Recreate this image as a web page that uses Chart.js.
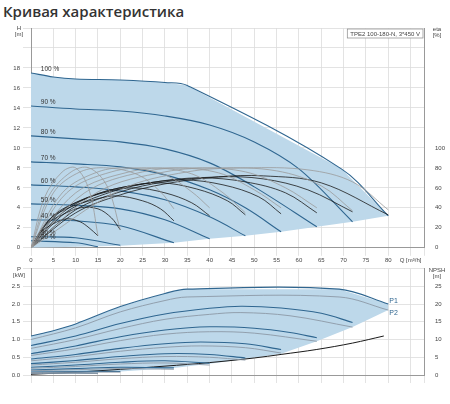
<!DOCTYPE html>
<html>
<head>
<meta charset="utf-8">
<script src="https://cdn.jsdelivr.net/npm/chart.js@4/dist/chart.umd.min.js"></script>
<style>
  body { margin: 0; background: #fff; width: 450px; height: 404px; position: relative; overflow: hidden; font-family: "Open Sans", "Liberation Sans", sans-serif; }
  #title { position: absolute; left: 3px; top: 1px; font-size: 15px; font-weight: 600; color: #333; }
  #top { position: absolute; left: 0; top: 20px; width: 450px; height: 245px; }
  #bottom { position: absolute; left: 0; top: 262px; width: 450px; height: 142px; }
</style>
</head>
<body>
<div id="title">Кривая характеристика</div>
<div id="top"><canvas id="c1"></canvas></div>
<div id="bottom"><canvas id="c2"></canvas></div>
<script>
// speed labels and pump curves H(Q)
const speeds = ['100 %', '90 %', '80 %', '70 %', '60 %', '50 %', '40 %', '30 %', '20 %'];
const headCurves = [
    [[0,17.5],[5,17.1],[10,16.9],[20,16.8],[30,16.55],[35,16.25],[69.5,7.9],[80,3.2]],
    [[0,14.2],[10,13.9],[20,13.7],[30,13.2],[40,12.3],[50,10.6],[60,7.9],[72,2.6]],
    [[0,11.2],[10,10.9],[20,10.6],[30,9.9],[40,8.5],[50,6.1],[64,2.1]],
    [[0,8.6],[10,8.4],[20,8.1],[30,7.3],[40,5.8],[48,4.0],[56,1.6]],
    [[0,6.3],[10,6.1],[20,5.7],[30,4.8],[40,3.1],[48,1.2]],
    [[0,4.4],[10,4.25],[20,3.9],[30,2.8],[40,0.9]],
    [[0,2.8],[10,2.7],[20,2.2],[32,0.5]],
    [[0,1.1],[10,1.0],[20,0.25]],
    [[0,0.7],[10,0.5],[15,0.1]]
];
const headLower = [[80,3.2],[72,2.6],[64,2.1],[56,1.6],[48,1.2],[40,0.9],[32,0.5],[20,0.2],[0,0]];

// efficiency curves eta(Q), hydraulic (grey) and total (black)
const etaGrey = [
    [[0,0],[20,58],[35,76],[48,80],[62,78],[72,66],[80,38]],
    [[0,0],[15,56],[30,76],[42,80],[55,77],[65,62],[72,37]],
    [[0,0],[12,55],[25,76],[37,80],[48,76],[57,60],[64,40]],
    [[0,0],[10,55],[22,76],[32,80],[42,75],[50,58],[56,40]],
    [[0,0],[8,55],[18,76],[27,80],[36,74],[43,55],[48,35]],
    [[0,0],[7,55],[15,76],[22,80],[30,73],[36,56],[40,40]],
    [[0,0],[5,55],[11,76],[17,80],[24,73],[29,56],[32,39]],
    [[0,0],[4,52],[9,76],[13,80],[17,62],[20,18]],
    [[0,0],[3,50],[7,76],[10,80],[13,58],[15,12]]
];
const etaBlack = [
    [[0,0],[10,35],[20,53],[30,64],[42,71],[52,72],[65,65],[80,33]],
    [[0,0],[10,38],[20,56],[30,66],[42,71],[52,69],[62,58],[72,36]],
    [[0,0],[8,36],[18,56],[28,66],[38,70],[48,66],[57,55],[64,35]],
    [[0,0],[7,35],[15,54],[25,64],[34,68],[43,63],[51,51],[56,34]],
    [[0,0],[6,34],[13,51],[21,61],[29,65],[37,59],[44,47],[48,33]],
    [[0,0],[5,32],[11,47],[17,56],[23,60],[30,55],[36,45],[40,32]],
    [[0,0],[4,28],[9,41],[14,48],[19,52],[25,47],[29,39],[32,27]],
    [[0,0],[3,22],[7,33],[11,40],[15,39],[18,30],[20,18]],
    [[0,0],[2,15],[5,24],[8,29],[11,26],[13,20],[15,12]]
];

// power curves P1 (blue) and P2 (grey), NPSH
const p1Curves = [
    [[0,1.1],[5,1.25],[10,1.44],[20,1.93],[30,2.3],[35,2.42],[69,2.42],[80,2.0]],
    [[0,0.83],[10,1.1],[20,1.45],[30,1.72],[40,1.88],[47,1.94],[56,1.89],[65,1.74],[72,1.48]],
    [[0,0.6],[10,0.82],[20,1.08],[30,1.27],[40,1.36],[50,1.32],[58,1.2],[64,1.05]],
    [[0,0.45],[10,0.58],[20,0.75],[30,0.88],[38,0.93],[48,0.88],[56,0.72]],
    [[0,0.32],[10,0.41],[20,0.52],[30,0.6],[40,0.58],[48,0.48]],
    [[0,0.22],[10,0.28],[20,0.36],[30,0.4],[40,0.33]],
    [[0,0.14],[10,0.18],[20,0.22],[32,0.2]],
    [[0,0.08],[10,0.1],[20,0.1]],
    [[0,0.05],[10,0.06],[15,0.05]]
];
const p2Curves = [
    [[0,1.0],[10,1.33],[20,1.78],[30,2.1],[35,2.2],[69,2.2],[80,1.83]],
    [[0,0.75],[10,1.0],[20,1.31],[30,1.57],[40,1.71],[47,1.76],[58,1.67],[72,1.35]],
    [[0,0.55],[10,0.74],[20,0.97],[30,1.15],[40,1.22],[50,1.18],[64,0.95]],
    [[0,0.4],[10,0.52],[20,0.67],[30,0.78],[38,0.82],[48,0.77],[56,0.62]],
    [[0,0.28],[10,0.36],[20,0.46],[30,0.52],[40,0.5],[48,0.42]],
    [[0,0.19],[10,0.24],[20,0.31],[30,0.34],[40,0.28]],
    [[0,0.12],[10,0.15],[20,0.18],[32,0.16]],
    [[0,0.07],[10,0.08],[20,0.08]],
    [[0,0.04],[10,0.05],[15,0.04]]
];
const powerLower = [[80,1.83],[72,1.35],[64,0.95],[56,0.6],[48,0.45],[40,0.32],[32,0.2],[20,0.1],[0,0.03]];
const npsh = [[0,0.2],[10,0.8],[20,1.6],[30,2.5],[40,3.5],[50,4.8],[56,5.8],[64,7.2],[72,9.0],[79,11]];

const xTicksMax = 80;
const qTitle = 'Q [m³/h]';
const pumpName = 'TPE2 100-180-N, 3*450 V';

Chart.defaults.font.family = '"Liberation Sans", Arial, sans-serif';
Chart.defaults.font.size = 6;
Chart.defaults.color = '#444';
Chart.defaults.animation = false;

const toXY = pts => pts.map(p => ({x: p[0], y: p[1]}));
const line = (pts, color, width, axis) => ({
    data: toXY(pts), borderColor: color, borderWidth: width, pointRadius: 0,
    tension: 0.35, fill: false, yAxisID: axis, order: 1
});
const shape = (top, lower, axis) => ({
    data: toXY(top.concat(lower)), borderColor: 'rgba(0,0,0,0)', borderWidth: 0,
    backgroundColor: '#bdd8ea', pointRadius: 0, tension: 0, fill: 'shape', yAxisID: axis, order: 10
});

const grid = { color: '#dcdcdc', lineWidth: 0.8 };
const border = { color: '#999' };

function xScale(showLabels) {
    return {
        type: 'linear', min: 0, max: 88,
        grid: grid, border: border,
        ticks: {
            stepSize: 5, autoSkip: false, maxRotation: 0, padding: 1, display: showLabels,
            callback: v => v <= xTicksMax ? v : (v === 85 ? qTitle : '')
        }
    };
}
function yScale(pos, max, step, lastLabel, fmt, w) {
    return {
        type: 'linear', position: pos, min: 0, max: max,
        grid: pos === 'left' ? grid : { display: false }, border: border,
        ticks: { stepSize: step, autoSkip: false, padding: 3, callback: v => v <= lastLabel ? fmt(v) : '' },
        afterFit: s => { s.width = w; }
    };
}

const textPlugin = {
    id: 'texts',
    afterDraw(chart, args, opts) {
        const ctx = chart.ctx, a = chart.chartArea;
        ctx.save();
        ctx.font = '6px "Liberation Sans", Arial, sans-serif';
        ctx.fillStyle = '#444';
        ctx.textAlign = 'center';
        ctx.fillText(opts.left[0], 19, a.top + 2);
        ctx.fillText(opts.left[1], 19, a.top + 8);
        ctx.fillText(opts.right[0], 437, a.top + 3);
        ctx.fillText(opts.right[1], 437, a.top + 9);
        if (opts.draw) opts.draw(chart, ctx);
        ctx.restore();
    }
};

// top chart
const topSets = [shape(headCurves[0], headLower, 'y')];
etaGrey.forEach(c => topSets.push(line(c, '#9a9a9a', 0.8, 'eta')));
etaBlack.forEach(c => topSets.push(line(c, '#1a1a1a', 0.8, 'eta')));
headCurves.forEach(c => topSets.push(line(c, '#2f6690', 1.1, 'y')));

new Chart(document.getElementById('c1'), {
    type: 'line',
    data: { datasets: topSets },
    plugins: [textPlugin],
    options: {
        responsive: true, maintainAspectRatio: false,
        layout: { padding: { top: 8, bottom: 0 } },
        plugins: {
            legend: { display: false }, tooltip: { enabled: false },
            texts: {
                left: ['H', '[m]'], right: ['eta', '[%]'],
                draw: (chart, ctx) => {
                    const x = chart.scales.x, y = chart.scales.y, a = chart.chartArea;
                    ctx.textAlign = 'left';
                    ctx.fillStyle = '#333';
                    ctx.font = '6.5px "Liberation Sans", Arial, sans-serif';
                    headCurves.forEach((c, i) => {
                        ctx.fillText(speeds[i], x.getPixelForValue(2.2), y.getPixelForValue(c[0][1]) - 2);
                    });
                    ctx.font = '6px "Liberation Sans", Arial, sans-serif';
                    const w = ctx.measureText(pumpName).width + 6;
                    ctx.fillStyle = '#fff';
                    ctx.fillRect(a.right - w - 1, a.top + 1, w, 9);
                    ctx.strokeStyle = '#888';
                    ctx.lineWidth = 0.7;
                    ctx.strokeRect(a.right - w - 1, a.top + 1, w, 9);
                    ctx.fillStyle = '#444';
                    ctx.fillText(pumpName, a.right - w + 2, a.top + 8);
                }
            }
        },
        scales: {
            x: xScale(true),
            y: yScale('left', 22, 2, 18, v => v, 31),
            eta: yScale('right', 220, 20, 100, v => v, 26)
        }
    }
});

// bottom chart
const botSets = [shape(p1Curves[0], powerLower, 'y')];
p2Curves.forEach(c => botSets.push(line(c, '#8c99a6', 0.9, 'y')));
p1Curves.forEach(c => botSets.push(line(c, '#2f6690', 1.1, 'y')));
botSets.push(line(npsh, '#1a1a1a', 1.0, 'npsh'));

new Chart(document.getElementById('c2'), {
    type: 'line',
    data: { datasets: botSets },
    plugins: [textPlugin],
    options: {
        responsive: true, maintainAspectRatio: false,
        layout: { padding: { top: 2, bottom: 21 } },
        plugins: {
            legend: { display: false }, tooltip: { enabled: false },
            texts: {
                left: ['P', '[kW]'], right: ['NPSH', '[m]'],
                draw: (chart, ctx) => {
                    const x = chart.scales.x, y = chart.scales.y;
                    const e1 = p1Curves[0][p1Curves[0].length - 1], e2 = p2Curves[0][p2Curves[0].length - 1];
                    ctx.textAlign = 'left';
                    ctx.fillStyle = '#2f6690';
                    ctx.font = '7px "Liberation Sans", Arial, sans-serif';
                    ctx.fillText('P1', x.getPixelForValue(e1[0]) + 1, y.getPixelForValue(e1[1]) - 1);
                    ctx.fillText('P2', x.getPixelForValue(e2[0]) + 1, y.getPixelForValue(e2[1]) + 5);
                }
            }
        },
        scales: {
            x: xScale(false),
            y: yScale('left', 3, 0.5, 2.5, v => v.toFixed(1), 31),
            npsh: yScale('right', 30, 5, 25, v => v, 26)
        }
    }
});
</script>
</body>
</html>
